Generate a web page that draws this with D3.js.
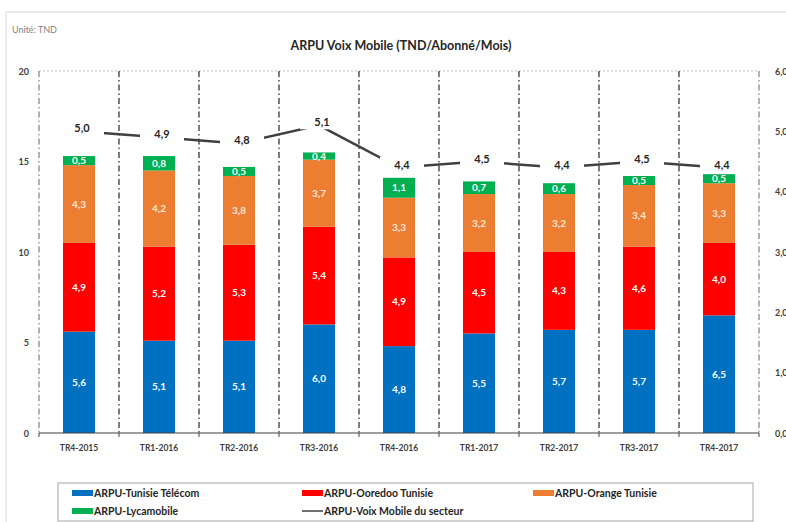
<!DOCTYPE html>
<html><head><meta charset="utf-8">
<script src="https://cdn.jsdelivr.net/npm/d3@7"></script>
<style>
body{margin:0;background:#fff;}
svg{display:block;font-family:Lato,"Open Sans",sans-serif;}
</style></head>
<body><svg id="c" width="786" height="522"></svg>
<script>
const categories = ["TR4-2015","TR1-2016","TR2-2016","TR3-2016","TR4-2016","TR1-2017","TR2-2017","TR3-2017","TR4-2017"];
const tunisieTelecom = [5.6,5.1,5.1,6.0,4.8,5.5,5.7,5.7,6.5];
const ooredoo = [4.9,5.2,5.3,5.4,4.9,4.5,4.3,4.6,4.0];
const orange = [4.3,4.2,3.8,3.7,3.3,3.2,3.2,3.4,3.3];
const lycamobile = [0.5,0.8,0.5,0.4,1.1,0.7,0.6,0.5,0.5];
const secteur = [5.0,4.9,4.8,5.1,4.4,4.5,4.4,4.5,4.4];
const leftTicks = [0,5,10,15,20];
const rightTicks = [0,1,2,3,4,5,6];
const seriesNames = ["ARPU-Tunisie Télécom","ARPU-Ooredoo Tunisie","ARPU-Orange Tunisie","ARPU-Lycamobile"];
const lineName = "ARPU-Voix Mobile du secteur";
const colors = ["#0070C0","#FF0000","#ED7D31","#00B050"];

const loc = d3.formatLocale({decimal:",",thousands:" ",grouping:[3],currency:["",""]});
const f1 = loc.format(".1f");

const svg = d3.select("#c");
const x0 = 39, x1 = 759, yTop = 71, yBot = 433;
const x = d3.scaleBand().domain(categories).range([x0,x1]).paddingInner(0).paddingOuter(0);
const yL = d3.scaleLinear().domain([0,20]).range([yBot,yTop]);
const yR = d3.scaleLinear().domain([0,6]).range([yBot,yTop]);
const barW = 32;

// outer border
svg.append("rect").attr("x",6).attr("y",12).attr("width",800).attr("height",520)
  .attr("fill","none").attr("stroke","#d9d9d9").attr("stroke-width",1);

svg.append("text").attr("x",12).attr("y",33).attr("font-size",9).attr("fill","#7f7f7f").text("Unité: TND");
svg.append("text").attr("x",401).attr("y",50).attr("text-anchor","middle").attr("font-size",12.5)
  .attr("font-weight","bold").attr("fill","#262626").text("ARPU Voix Mobile (TND/Abonné/Mois)");

// top dotted line
svg.append("line").attr("x1",x0).attr("x2",x1).attr("y1",yTop).attr("y2",yTop)
  .attr("stroke","#bfbfbf").attr("stroke-dasharray","2,2");

// vertical dash-dot lines at boundaries
const bounds = categories.map(c=>x(c)).concat([x1]);
svg.append("g").selectAll("line").data(bounds).join("line")
  .attr("x1",d=>d).attr("x2",d=>d).attr("y1",yTop).attr("y2",yBot)
  .attr("stroke",(d,i)=> (i===0||i===bounds.length-1)?"#7f7f7f":"#262626")
  .attr("stroke-width",1.2).attr("stroke-dasharray","6,3,1.5,3");

// stacked bars
const rows = categories.map((c,i)=>({cat:c,s0:tunisieTelecom[i],s1:ooredoo[i],s2:orange[i],s3:lycamobile[i]}));
const stack = d3.stack().keys(["s0","s1","s2","s3"])(rows);
const g = svg.append("g");
stack.forEach((layer,li)=>{
  g.append("g").selectAll("rect").data(layer).join("rect")
    .attr("x",d=>x(d.data.cat)+x.bandwidth()/2-barW/2)
    .attr("width",barW)
    .attr("y",d=>yL(d[1]))
    .attr("height",d=>yL(d[0])-yL(d[1]))
    .attr("fill",colors[li]);
  g.append("g").selectAll("text").data(layer).join("text")
    .attr("x",d=>x(d.data.cat)+x.bandwidth()/2)
    .attr("y",d=>(yL(d[0])+yL(d[1]))/2+3.5)
    .attr("text-anchor","middle").attr("font-size",10).attr("font-weight","bold")
    .attr("fill",li===2?"#fde9d9":"#ffffff")
    .text(d=>f1(d[1]-d[0]));
});

// x axis
svg.append("line").attr("x1",x0).attr("x2",x1).attr("y1",yBot).attr("y2",yBot).attr("stroke","#404040").attr("stroke-width",1.2);
svg.append("g").selectAll("line").data(bounds).join("line")
  .attr("x1",d=>d).attr("x2",d=>d).attr("y1",yBot).attr("y2",yBot+4).attr("stroke","#404040");
svg.append("g").selectAll("text").data(categories).join("text")
  .attr("x",d=>x(d)+x.bandwidth()/2).attr("y",451).attr("text-anchor","middle")
  .attr("font-size",8.5).attr("font-weight","bold").attr("fill","#404040").text(d=>d);

// left axis labels
svg.append("g").selectAll("text").data(leftTicks).join("text")
  .attr("x",29).attr("y",d=>yL(d)+3.5).attr("text-anchor","end")
  .attr("font-size",9).attr("font-weight","bold").attr("fill","#404040").text(d=>d);
// right axis labels
svg.append("g").selectAll("text").data(rightTicks).join("text")
  .attr("x",775).attr("y",d=>yR(d)+3.5).attr("text-anchor","start")
  .attr("font-size",9).attr("font-weight","bold").attr("fill","#404040").text(d=>f1(d));

// line
const pts = categories.map((c,i)=>({cat:c,v:secteur[i]}));
const line = d3.line().x(d=>x(d.cat)+x.bandwidth()/2).y(d=>yR(d.v));
svg.append("path").datum(pts).attr("d",line).attr("fill","none")
  .attr("stroke","#404040").attr("stroke-width",2.5);
const lg = svg.append("g").selectAll("g").data(pts).join("g")
  .attr("transform",d=>`translate(${x(d.cat)+x.bandwidth()/2+3},${yR(d.v)-3})`);
lg.append("rect").attr("x",-22).attr("y",-8).attr("width",44).attr("height",15).attr("fill","#fff");
lg.append("text").attr("y",4).attr("text-anchor","middle").attr("font-size",11).attr("font-weight","bold")
  .attr("fill","#262626").text(d=>f1(d.v));

// legend
const leg = svg.append("g");
leg.append("rect").attr("x",58).attr("y",483).attr("width",695).attr("height",38)
  .attr("fill","#fff").attr("stroke","#a6a6a6");
const legItems = [
  {name:seriesNames[0],c:colors[0],x:72,y:493,t:"bar"},
  {name:seriesNames[1],c:colors[1],x:302,y:493,t:"bar"},
  {name:seriesNames[2],c:colors[2],x:533,y:493,t:"bar"},
  {name:seriesNames[3],c:colors[3],x:72,y:511,t:"bar"},
  {name:lineName,c:"#404040",x:302,y:511,t:"line"}
];
legItems.forEach(it=>{
  if(it.t==="bar"){
    leg.append("rect").attr("x",it.x).attr("y",it.y-3).attr("width",21).attr("height",6).attr("fill",it.c);
  } else {
    leg.append("line").attr("x1",it.x).attr("x2",it.x+21).attr("y1",it.y).attr("y2",it.y)
      .attr("stroke",it.c).attr("stroke-width",1.5);
  }
  leg.append("text").attr("x",it.x+22).attr("y",it.y+4).attr("font-size",10.5).attr("font-weight","bold")
    .attr("fill","#262626").text(it.name);
});
</script></body></html>
